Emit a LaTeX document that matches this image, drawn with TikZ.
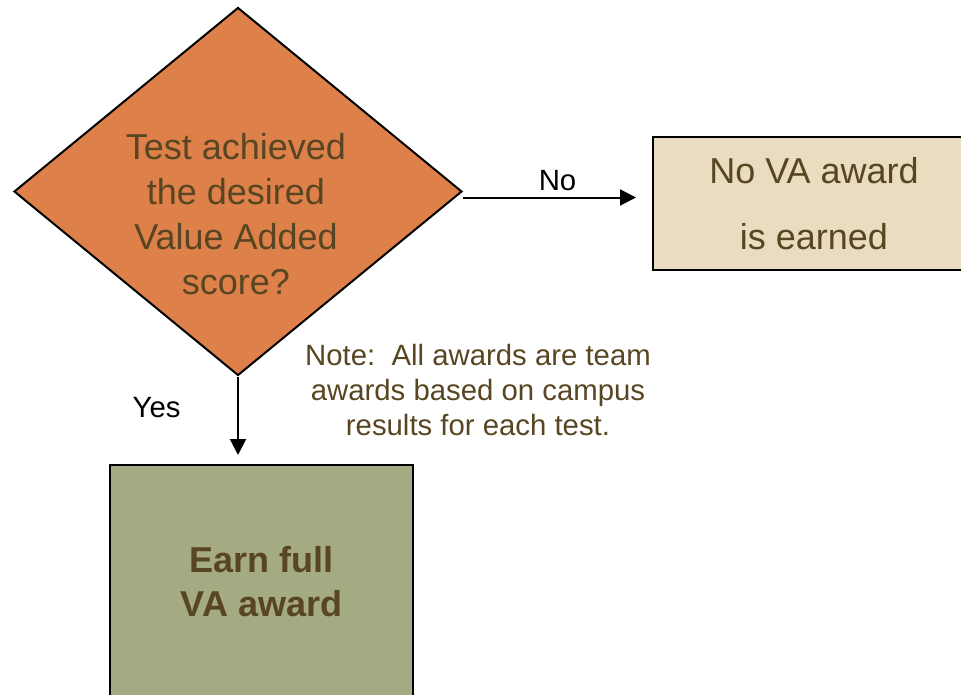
\documentclass[tikz,border=0pt]{standalone}
\usepackage{fontspec}
\setmainfont{Liberation Sans}
\usetikzlibrary{arrows.meta,shapes.geometric}

\begin{document}
\begin{tikzpicture}[x=0.75pt,y=-0.75pt,>={Triangle[length=12pt,width=12pt]},
	box/.style={draw,line width=1.5pt,text=txtbrown,align=center,inner sep=0pt},
	flow/.style={->,line width=1.5pt},
	lbl/.style={font=\fontsize{22}{26}\selectfont}]

\definecolor{txtbrown}{HTML}{584521}
\definecolor{decorange}{HTML}{DD8049}
\definecolor{novabeige}{HTML}{EADCC0}
\definecolor{earngreen}{HTML}{A4AA81}

\clip (0,0) rectangle (961,694);

% decision
\node[box,shape=diamond,fill=decorange,minimum width=336pt,minimum height=276pt] (dec) at (238,191.5) {};
\node[text=txtbrown,align=center,font=\fontsize{27}{33.75}\selectfont] (dectext) at (236,214)
	{Test achieved\\the desired\\Value Added\\score?};

% outcomes
\node[box,fill=novabeige,minimum width=241.5pt,minimum height=99.75pt,
	font=\fontsize{27}{50}\selectfont] (nova) at (814,203.5) {No VA award\\is earned};
\node[box,fill=earngreen,minimum width=227.25pt,minimum height=175.5pt,
	font=\bfseries\fontsize{27}{33}\selectfont] (earn) at (261.5,582) {Earn full\\VA award};

\node[lbl,text=txtbrown,align=center] (note) at (478,390)
	{Note:\ \ All awards are team\\awards based on campus\\results for each test.};

% arrows
\draw[flow,shorten >=12pt] ([yshift=-4.5pt]dec.east) -- ([yshift=-4.5pt]dec.east -| nova.west)
	node[lbl,midway,above=1pt] (no) {No};
\draw[flow,shorten >=6.75pt] (dec.south) -- (dec.south |- earn.north)
	node[lbl,pos=0.36,left=39pt] (yes) {Yes};

\end{tikzpicture}
\end{document}
